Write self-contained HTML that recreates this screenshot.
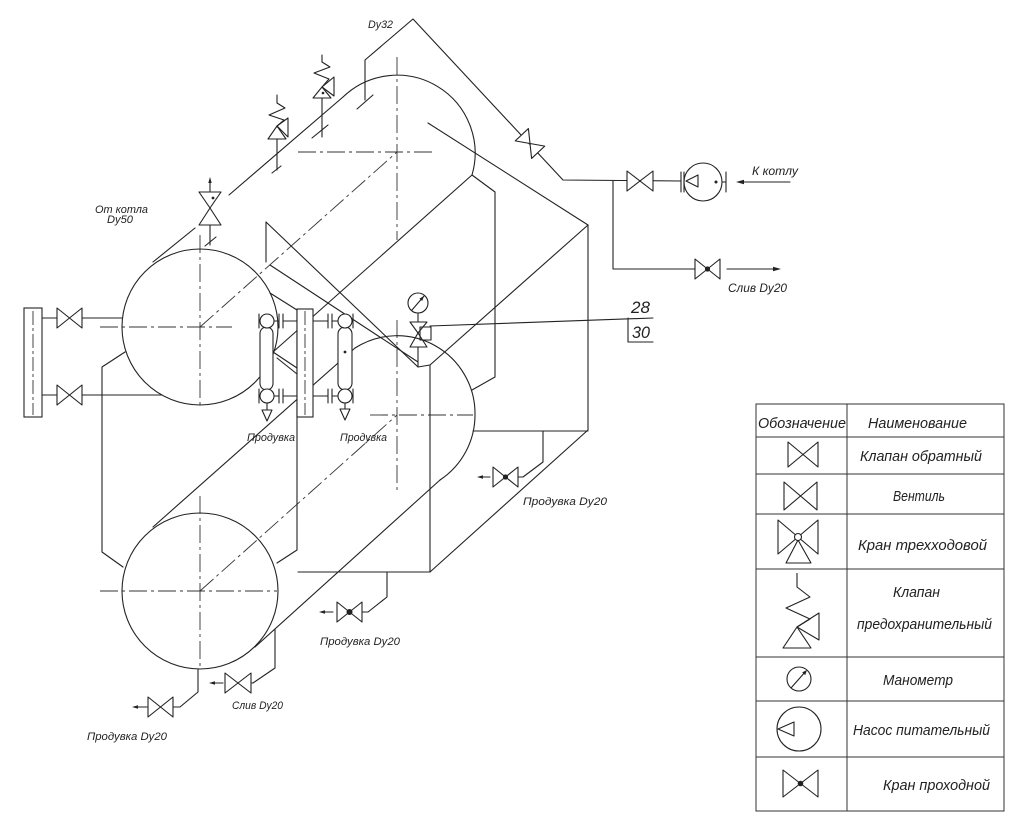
<!DOCTYPE html>
<html><head><meta charset="utf-8"><style>
html,body{margin:0;padding:0;background:#fff;}
svg{display:block;}
text{font-family:"Liberation Sans","DejaVu Sans",sans-serif;font-style:italic;fill:#222;stroke:none;}
</style></head><body>
<svg width="1024" height="823" viewBox="0 0 1024 823" xmlns="http://www.w3.org/2000/svg">
<rect width="1024" height="823" fill="#fff"/>

<!-- center / axis lines -->
<g stroke="#333" stroke-width="0.9" fill="none" stroke-dasharray="18 4 3 4">
<line x1="100" y1="327" x2="232" y2="327"/>
<line x1="200" y1="235" x2="200" y2="408"/>
<line x1="200" y1="327" x2="397" y2="152"/>
<line x1="298" y1="152" x2="432" y2="152"/>
<line x1="397" y1="57" x2="397" y2="240"/>
<line x1="100" y1="591" x2="277" y2="591"/>
<line x1="200" y1="496" x2="200" y2="669"/>
<line x1="200" y1="591" x2="397" y2="415"/>
<line x1="370" y1="415" x2="473" y2="415"/>
<line x1="397" y1="320" x2="397" y2="493"/>
</g>

<g stroke="#222" stroke-width="1.1" fill="none" stroke-linecap="round" stroke-linejoin="round">
<!-- upper drum -->
<circle cx="200" cy="327" r="78"/>
<line x1="153" y1="262" x2="195" y2="228"/>
<line x1="229" y1="195" x2="343" y2="97"/>
<path d="M343,97 A78,78 0 0 1 472,175"/>
<line x1="472" y1="175" x2="273" y2="352"/>
<polyline points="472,175 495,192 495,377 472,390"/>
<polyline points="428,123 588,225 588,430 430,572"/>
<polyline points="588,225 430,365 430,572"/>
<line x1="298" y1="572" x2="430" y2="572"/>
<line x1="473" y1="431" x2="588" y2="431"/>
<line x1="266" y1="222" x2="266" y2="262"/>
<line x1="266" y1="222" x2="418" y2="367"/>
<line x1="270" y1="265" x2="418" y2="362"/>
<line x1="418" y1="367" x2="430" y2="365"/>
<!-- lower drum -->
<circle cx="200" cy="591" r="78"/>
<path d="M355,348 A78,78 0 0 1 475,415 A78,78 0 0 1 440,480"/>
<line x1="153" y1="527" x2="355" y2="348"/>
<line x1="440" y1="480" x2="255" y2="647"/>
<!-- frames -->
<polyline points="125,352 102,367 102,552 123,567"/>
<polyline points="270,293 297,310 297,550 277,563"/>
<line x1="273" y1="352" x2="297" y2="368"/>
<line x1="277" y1="358" x2="297" y2="374"/>
<!-- left pipes -->
<line x1="42" y1="318" x2="57" y2="318"/>
<line x1="82" y1="318" x2="122" y2="318"/>
<line x1="42" y1="395" x2="57" y2="395"/>
<line x1="82" y1="395" x2="162" y2="395"/>
<path d="M57,308 L82,328 L82,308 L57,328 Z"/>
<path d="M57,385 L82,405 L82,385 L57,405 Z"/>
<!-- column connections -->
<line x1="273" y1="321" x2="279" y2="321"/><line x1="283" y1="321" x2="297" y2="321"/>
<line x1="273" y1="396" x2="279" y2="396"/><line x1="283" y1="396" x2="297" y2="396"/>
<line x1="313" y1="321" x2="328" y2="321"/><line x1="332" y1="321" x2="338" y2="321"/>
<line x1="313" y1="396" x2="328" y2="396"/><line x1="332" y1="396" x2="338" y2="396"/>
<line x1="279" y1="314" x2="279" y2="328"/><line x1="283" y1="314" x2="283" y2="328"/>
<line x1="279" y1="389" x2="279" y2="403"/><line x1="283" y1="389" x2="283" y2="403"/>
<line x1="328" y1="314" x2="328" y2="328"/><line x1="332" y1="314" x2="332" y2="328"/>
<line x1="328" y1="389" x2="328" y2="403"/><line x1="332" y1="389" x2="332" y2="403"/>
</g>

<!-- flanges and columns (white filled, on top) -->
<g stroke="#222" stroke-width="1.1" fill="#fff">
<rect x="24" y="308" width="18" height="109"/>
<rect x="297" y="309" width="16" height="108"/>
<rect x="260" y="327" width="13" height="63" rx="6.5"/>
<circle cx="267" cy="321" r="7"/>
<circle cx="267" cy="396" r="7"/>
<rect x="338" y="327" width="14" height="63" rx="7"/>
<circle cx="345" cy="321" r="7"/>
<circle cx="345" cy="396" r="7"/>
</g>
<g stroke="#333" stroke-width="0.9" fill="none" stroke-dasharray="14 3 3 3">
<line x1="33" y1="311" x2="33" y2="415"/>
<line x1="305" y1="311" x2="305" y2="415"/>
</g>

<g stroke="#222" stroke-width="1.1" fill="none" stroke-linecap="round" stroke-linejoin="round">
<line x1="259" y1="314" x2="259" y2="328"/><line x1="259" y1="389" x2="259" y2="403"/>
<line x1="353" y1="314" x2="353" y2="328"/><line x1="353" y1="389" x2="353" y2="403"/>
<line x1="267" y1="403" x2="267" y2="410"/>
<polygon points="262,410 272,410 267,421"/>
<line x1="345" y1="403" x2="345" y2="409"/>
<polygon points="340,409 350,409 345,420"/>

<!-- manometer + valve -->
<circle cx="418" cy="303" r="10"/>
<line x1="412" y1="310" x2="424" y2="296"/>
<line x1="418" y1="313" x2="418" y2="322"/>
<polygon points="410,322 427,322 418,333"/>
<polygon points="418,333 410,347 427,347"/>
<rect x="420" y="327" width="11" height="13"/>
<line x1="418" y1="347" x2="418" y2="367"/>
<!-- leader 28/30 -->
<line x1="430" y1="326" x2="653" y2="318"/>
<polyline points="628,318 628,342 653,342"/>

<!-- safety valves -->
<polyline points="277,95 277,103 285,108 269,115 284,120 277,126"/>
<polygon points="277,126 268,139 286,139"/>
<polygon points="277,126 288,118 288,137"/>
<line x1="277" y1="139" x2="277" y2="170"/>
<line x1="272" y1="173" x2="281" y2="166"/>
<polyline points="322,55 322,62 330,67 314,73 329,79 322,87"/>
<polygon points="322,87 313,98 331,98"/>
<polygon points="322,87 334,77 334,96"/>
<line x1="322" y1="98" x2="322" y2="137"/>
<line x1="312" y1="138" x2="328" y2="125"/>

<!-- От котла valve -->
<line x1="199" y1="192" x2="221" y2="192"/>
<polygon points="199,192 221,192 210,208"/>
<polygon points="210,208 199,225 221,225"/>
<line x1="210" y1="182" x2="210" y2="192"/>
<line x1="210" y1="225" x2="210" y2="245"/>
<line x1="205" y1="246" x2="216" y2="237"/>

<!-- Dy32 pipe -->
<polyline points="365,100 365,60 413,19 563,180 681,181"/>
<line x1="357" y1="109" x2="373" y2="95"/>
<g transform="translate(530,143.5) rotate(47)">
<path d="M-12,-9 L12,9 L12,-9 L-12,9 Z" fill="#fff"/>
</g>
<!-- pump line -->
<path d="M627,171 L653,191 L653,171 L627,191 Z" fill="#fff"/>
<line x1="681" y1="172" x2="681" y2="192"/>
<line x1="684" y1="172" x2="684" y2="192"/>
<circle cx="703" cy="182" r="19"/>
<polygon points="686,181 698,175 698,187"/>
<line x1="722" y1="182" x2="726" y2="182"/>
<line x1="726" y1="172" x2="726" y2="192"/>
<line x1="738" y1="182" x2="790" y2="182"/>
<!-- drain right -->
<polyline points="613,181 613,269 695,269"/>
<path d="M695,259 L720,279 L720,259 L695,279 Z"/>
<line x1="727" y1="269" x2="777" y2="269"/>

<!-- right Продувка -->
<polyline points="543,431 543,462 523,477 518,477"/>
<path d="M493,467 L518,487 L518,467 L493,487 Z"/>
<line x1="480" y1="477" x2="490" y2="477"/>
<!-- middle Продувка -->
<polyline points="387,572 387,597 368,612 362,612"/>
<path d="M337,602 L362,622 L362,602 L337,622 Z"/>
<line x1="322" y1="612" x2="333" y2="612"/>
<!-- Слив bottom -->
<polyline points="275,629 275,668 253,683 251,683"/>
<path d="M225,673 L251,693 L251,673 L225,693 Z"/>
<line x1="212" y1="683" x2="223" y2="683"/>
<!-- bottom Продувка -->
<polyline points="198,669 198,692 180,707 173,707"/>
<path d="M148,697 L173,717 L173,697 L148,717 Z"/>
<line x1="135" y1="707" x2="147" y2="707"/>
</g>

<!-- filled small marks -->
<g fill="#222" stroke="none">
<circle cx="345" cy="352" r="1.4"/>
<circle cx="213" cy="198" r="1.4"/>
<circle cx="323" cy="93" r="1.3"/>
<circle cx="716" cy="182" r="1.5"/>
<circle cx="707.5" cy="269" r="2.6"/>
<circle cx="505.5" cy="477" r="2.6"/>
<circle cx="349.5" cy="612" r="3"/>
<polygon points="424,296 422.2,301 419.4,298.6"/>
<polygon points="210,177 208.3,183 211.7,183"/>
<polygon points="736,182 744,179.8 744,184.2"/>
<polygon points="781,269 773,266.8 773,271.2"/>
<polygon points="477,477 483,475.3 483,478.7"/>
<polygon points="319,612 325,610.3 325,613.7"/>
<polygon points="209,683 215,681.3 215,684.7"/>
<polygon points="132,707 138,705.3 138,708.7"/>
</g>

<!-- diagram labels -->
<text x="368" y="28" font-size="11" textLength="25" lengthAdjust="spacingAndGlyphs">Dy32</text>
<text x="95" y="213" font-size="11" textLength="53" lengthAdjust="spacingAndGlyphs">От котла</text>
<text x="107" y="223" font-size="11" textLength="26" lengthAdjust="spacingAndGlyphs">Dy50</text>
<text x="752" y="175" font-size="12" textLength="46" lengthAdjust="spacingAndGlyphs">К котлу</text>
<text x="728" y="292" font-size="12" textLength="59" lengthAdjust="spacingAndGlyphs">Слив  Dy20</text>
<text x="631" y="313" font-size="17" textLength="19" lengthAdjust="spacingAndGlyphs">28</text>
<text x="632" y="338" font-size="17" textLength="18" lengthAdjust="spacingAndGlyphs">30</text>
<text x="247" y="441" font-size="11" textLength="48" lengthAdjust="spacingAndGlyphs">Продувка</text>
<text x="340" y="441" font-size="11" textLength="47" lengthAdjust="spacingAndGlyphs">Продувка</text>
<text x="523" y="505" font-size="11" textLength="84" lengthAdjust="spacingAndGlyphs">Продувка  Dy20</text>
<text x="320" y="645" font-size="11" textLength="80" lengthAdjust="spacingAndGlyphs">Продувка Dy20</text>
<text x="232" y="709" font-size="11" textLength="51" lengthAdjust="spacingAndGlyphs">Слив Dy20</text>
<text x="87" y="740" font-size="11" textLength="80" lengthAdjust="spacingAndGlyphs">Продувка Dy20</text>

<!-- legend table -->
<g stroke="#333" stroke-width="1" fill="none">
<rect x="756" y="404" width="248" height="407"/>
<line x1="847" y1="404" x2="847" y2="811"/>
<line x1="756" y1="437" x2="1004" y2="437"/>
<line x1="756" y1="474" x2="1004" y2="474"/>
<line x1="756" y1="514" x2="1004" y2="514"/>
<line x1="756" y1="569" x2="1004" y2="569"/>
<line x1="756" y1="657" x2="1004" y2="657"/>
<line x1="756" y1="701" x2="1004" y2="701"/>
<line x1="756" y1="757" x2="1004" y2="757"/>
</g>
<g stroke="#222" stroke-width="1.1" fill="none" stroke-linejoin="round">
<path d="M788,442 L818,467 L818,442 L788,467 Z"/>
<path d="M784,482 L817,510 L817,482 L784,510 Z"/>
<path d="M778,520 L818,554 L818,520 L778,554 Z"/>
<polygon points="798,540 786,563 811,563"/>
<circle cx="798" cy="537" r="3.5" fill="#fff"/>
<polyline points="797,573 797,587 810,597 786,608 810,619 797,627"/>
<polygon points="797,627 783,648 811,648"/>
<polygon points="797,627 819,613 819,640"/>
<circle cx="799" cy="679" r="12"/>
<line x1="791" y1="688" x2="806" y2="671"/>
<circle cx="799" cy="729" r="22"/>
<polygon points="778,729 794,722 794,736"/>
<path d="M783,770 L818,797 L818,770 L783,797 Z"/>
</g>
<g fill="#222" stroke="none">
<circle cx="800.5" cy="783.5" r="2.8"/>
<polygon points="807,670 805.2,675.1 802.2,672.4"/>
</g>

<text x="758" y="428" font-size="15" textLength="88" lengthAdjust="spacingAndGlyphs">Обозначение</text>
<text x="868" y="428" font-size="15" textLength="99" lengthAdjust="spacingAndGlyphs">Наименование</text>
<text x="860" y="461" font-size="15" textLength="122" lengthAdjust="spacingAndGlyphs">Клапан обратный</text>
<text x="893" y="501" font-size="15" textLength="52" lengthAdjust="spacingAndGlyphs">Вентиль</text>
<text x="858" y="550" font-size="15" textLength="129" lengthAdjust="spacingAndGlyphs">Кран трехходовой</text>
<text x="893" y="597" font-size="15" textLength="47" lengthAdjust="spacingAndGlyphs">Клапан</text>
<text x="857" y="629" font-size="15" textLength="135" lengthAdjust="spacingAndGlyphs">предохранительный</text>
<text x="883" y="685" font-size="15" textLength="70" lengthAdjust="spacingAndGlyphs">Манометр</text>
<text x="853" y="735" font-size="15" textLength="137" lengthAdjust="spacingAndGlyphs">Насос питательный</text>
<text x="883" y="790" font-size="15" textLength="107" lengthAdjust="spacingAndGlyphs">Кран проходной</text>
</svg>
</body></html>
